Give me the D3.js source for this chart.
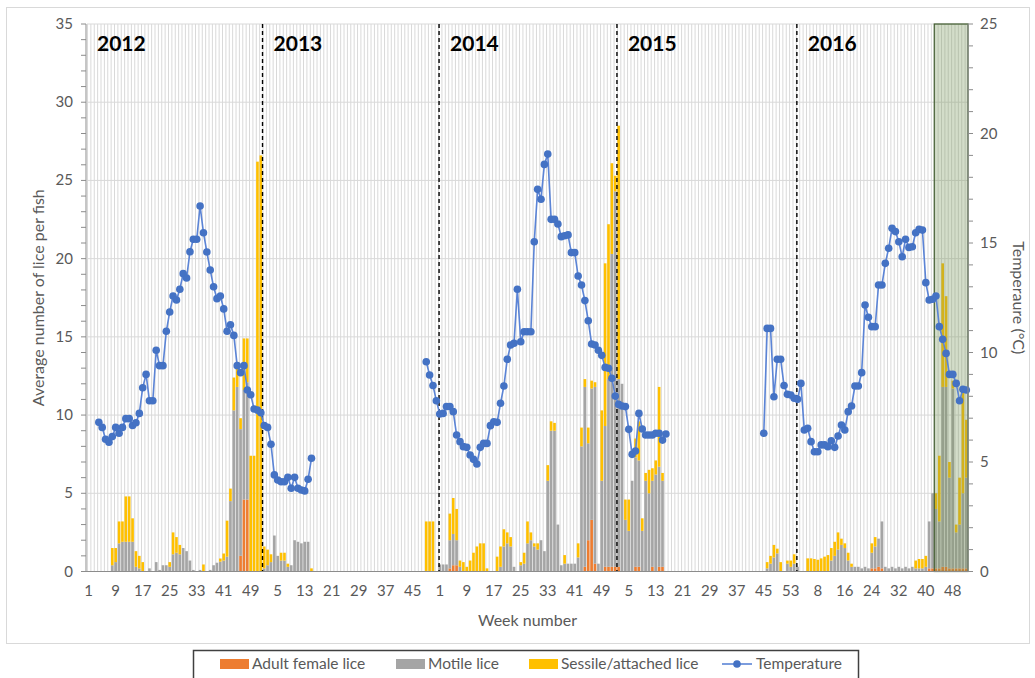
<!DOCTYPE html>
<html><head><meta charset="utf-8">
<script src="https://cdn.jsdelivr.net/npm/d3@7"></script>
<style>body{margin:0;background:#fff;} svg{display:block;font-family:Lato,'Open Sans',sans-serif;}</style>
</head><body><svg id="c" width="1035" height="678"></svg>
<script>
// ---------------- DATA ----------------
const years = [2012, 2013, 2014, 2015, 2016];
const weeksInYear = [52, 52, 52, 53, 52];
const dividerYears = [2013, 2014, 2015, 2016];
const yearLabels = ["2012", "2013", "2014", "2015", "2016"];
const seriesNames = ["Adult female lice", "Motile lice", "Sessile/attached lice", "Temperature"];
const leftTicks = [0, 5, 10, 15, 20, 25, 30, 35];
const rightTicks = [0, 5, 10, 15, 20, 25];
const shadeStart = "2016-43";

// Lice segment A: from 2012 week 8
const liceAStart = "2012-8";
const liceAFemale = [0,0,0,0,0,0,0,0,0,0, 0,0,0,0,0,0,0,0,0,0, 0,0,0,0,0,0,0,0,0,0, 0,0,0,0,0,0,0,0,1.0,4.6, 4.6,0,0,0,0,0,0,0,0,0, 0,0,0,0,0,0,0,0,0,0];
const liceAMotile = [0.4,0.6,1.8,1.9,1.9,1.9,1.9,0.3,0.2,0, 0,0.2,0,0.6,0.1,0.4,0.4,0.3,1.1,1.2, 1.1,1.5,1.3,0.7,0.1,0,0.1,0,0,0.1, 0.4,0.56,0.63,0.7,0.95,4.5,10.3,11.8,8.1,7.0, 7.5,0,0,0,0,0.2,0.4,0.6,2.3,1.0, 0.7,0.7,0.3,0.4,2.0,1.9,1.8,1.9,1.9,0];
const liceASessile = [1.1,0.9,1.4,1.3,2.9,2.9,1.5,1.0,0.8,0.6, 0,0,0,0,0,0,0,0.3,1.4,1.0, 0.6,0,0,0,0,0,0,0.45,0,0, 0,0,0.2,0.45,2.3,0.8,2.1,1.6,0.7,3.3, 2.8,7.4,7.4,26.2,26.6,1.4,1.0,0.5,0,0, 0.5,0.5,0.2,0,0,0,0,0,0,0.2];

// Lice segment B: from 2013 week 49
const liceBStart = "2013-49";
const liceBFemale = [0,0,0,0,0,0,0,0.2,0.4,0.4, 0,0,0,0,0,0,0,0,0,0, 0,0,0,0,0,0,0,0,0,0, 0,0,0,0,0,0,0,0,0,0, 0,0,0,0,0,0,0,0.3,2.0,3.3, 0.5,0,0,0.3,0.3,0.3,0.3,0.3,0,0, 0,0,0.3,0.3,0,0,0,0.3,0,0.3, 0.3,0];
const liceBMotile = [0,0,0,0,0.45,0.45,0.45,1.8,2.0,1.6, 0.3,0,0,0,0,0,0,0,0,0, 0,0,0.3,1.6,1.8,1.6,0.3,0,0.4,0.5, 1.8,2.0,1.6,1.4,2.0,1.3,5.8,9.0,9.0,3.0, 0.4,0.5,0.5,0.5,0.5,0.9,8.0,11.5,6.2,8.4, 11.3,0.5,5.8,9.0,12,20,24,12,12,3.3, 2.6,5.8,7.0,6.8,2.6,5.8,5.0,5.5,6.2,6.4, 5.5,0];
const liceBSessile = [3.2,3.2,3.2,0,0,0,0,1.7,2.3,2.0, 0.4,0.6,0.3,0.7,1.2,1.6,1.8,1.8,0.2,0, 0,0.95,1.3,1.1,0.7,0.6,0,0,0.2,0.7, 1.4,0.5,0.2,0.4,0,0,1.0,0.6,0.5,0, 0,0.55,0,0,0,0.9,1.2,0.5,1.0,0.5, 0.3,0,4.5,10.4,9.9,5.8,1.0,16.2,0,1.3, 2.0,0,1.2,2.5,0.8,0.5,1.5,0.8,0.9,5.1, 0.5,0];

// Lice segment C: from 2015 week 45
const liceCStart = "2015-45";
const liceCFemale = [0,0,0,0,0,0,0,0,0,0, 0,0,0,0,0,0,0,0,0,0, 0,0,0,0,0,0,0,0,0,0, 0,0,0.2,0.2,0.3,0.2,0,0,0,0, 0,0,0,0,0,0,0,0,0,0.2, 0.2,0.2,0.2,0.3,0.3,0.2,0.2,0.2,0.2,0.2, 0.2];
const liceCMotile = [0,0.2,0.5,0.9,1.16,0,0,0.5,0.3,0.5, 0.3,0,0,0,0,0,0,0,0,0, 0.7,1.0,1.4,1.7,1.5,0.7,0.3,0.3,0.3,0.2, 0.3,0.2,1.0,1.4,1.8,3.0,0.3,0.2,0.3,0.2, 0.3,0.2,0.3,0.2,0.3,0.2,0.2,0.2,0.3,3.0, 4.8,3.8,3.0,11.5,11.5,5.8,11.5,2.3,2.8,4.8, 5.8];
const liceCSessile = [0,0.4,0.5,0.8,0.3,0.6,0,0.2,0.4,0.6, 0,0,0,0.84,0.84,0.8,0.75,0.84,0.95,1.05, 0.8,0.9,1.1,0.4,0.3,0.5,0.2,0,0,0, 0,0,0.6,0.6,0,0,0,0,0,0, 0,0,0,0,0,0.5,0.6,0.6,0.7,0, 0,1.0,4.2,7.9,5.8,1.0,0.5,0.5,3.0,6.8, 3.7];

// Temperature (°C)
const tempAStart = "2012-4";
const tempA = [6.81,6.58,6.04,5.90,6.16,6.58,6.31,6.58,6.98,6.98, 6.67,6.79,7.22,8.39,9.0,7.8,7.8,10.1,9.4,9.4, 10.97,11.85,12.58,12.4,12.89,13.6,13.4,14.6,15.17,15.17, 16.69,15.47,14.59,13.77,13.0,12.46,12.58,11.99,10.97,11.27, 10.78,9.4,9.08,9.4,8.29,8.07,7.42,7.37,7.25,6.67, 6.58,5.81,4.41,4.18,4.1,4.1,4.3,3.8,4.3,3.8, 3.72,3.68,4.21,5.17];
const tempBStart = "2013-49";
const tempB = [9.58,8.97,8.49,7.80,7.19,7.22,7.53,7.53,7.30,6.23, 5.93,5.70,5.67,5.32,5.12,4.91,5.67,5.85,5.85,6.66, 6.84,6.81,7.68,8.47,9.69,10.34,10.42,12.89,10.49,10.95, 10.95,10.95,15.06,17.45,17.0,18.59,19.06,16.08,16.08,15.87, 15.29,15.33,15.37,14.56,14.56,13.49,13.08,12.37,11.45,10.39, 10.34,10.1,9.87,9.32,9.28,8.82,8.01,7.63,7.56,7.53, 6.49,5.35,5.50,7.22,6.51,6.23,6.23,6.23,6.31,6.31, 6.00,6.28];
const tempCStart = "2015-45";
const tempC = [6.31,11.10,11.10,7.98,9.69,9.69,8.49,8.09,8.06,7.91, 7.86,8.59,6.46,6.54,5.93,5.47,5.47,5.78,5.78,5.70, 5.97,5.67,6.19,6.69,6.46,7.30,7.56,8.47,8.47,9.08, 12.17,11.61,11.18,11.18,13.08,13.08,14.07,14.76,15.67,15.52, 15.06,14.37,15.17,14.80,14.83,15.47,15.62,15.59,13.19,12.40, 12.43,12.58,11.18,10.60,9.96,9.0,9.0,8.59,7.80,8.32, 8.29];

// ---------------- BUILD ----------------
const keys = [];
const weekOf = {};
years.forEach((y, yi) => { for (let w = 1; w <= weeksInYear[yi]; w++) { const k = y + "-" + w; keys.push(k); weekOf[k] = w; } });

const plot = { left: 87, right: 968, top: 24, bottom: 571.5 };
const C = { female: "#ED7D31", motile: "#A5A5A5", sessile: "#FFC000", temp: "#4472C4", line: "#5B84D6", grid: "#D9D9D9", axis: "#8C8C8C", text: "#595959" };

const x = d3.scaleBand().domain(keys).range([plot.left, plot.right]).paddingInner(0.22).paddingOuter(0.11);
const step = x.step();
const yL = d3.scaleLinear().domain([0, 35]).range([plot.bottom, plot.top]);
const yR = d3.scaleLinear().domain([0, 25]).range([plot.bottom, plot.top]);

const svg = d3.select("#c");
svg.append("rect").attr("x", 6.5).attr("y", 7.5).attr("width", 1023).attr("height", 636).attr("fill", "#fff").attr("stroke", "#D9D9D9");

// vertical category gridlines
const g = svg.append("g");
g.selectAll("line.vg").data(keys).join("line")
  .attr("x1", (k, i) => plot.left + i * step + 0.5).attr("x2", (k, i) => plot.left + i * step + 0.5)
  .attr("y1", plot.top).attr("y2", plot.bottom).attr("stroke", C.grid).attr("stroke-width", 1);
// horizontal gridlines
g.selectAll("line.hg").data(leftTicks.slice(1)).join("line")
  .attr("x1", plot.left).attr("x2", plot.right).attr("y1", d => yL(d)).attr("y2", d => yL(d))
  .attr("stroke", C.grid).attr("stroke-width", 1);

// stacked bars
function rows(startKey, f, m, s) { const i0 = keys.indexOf(startKey); return f.map((v, j) => ({ key: keys[i0 + j], female: v, motile: m[j], sessile: s[j] })); }
const liceRows = [].concat(rows(liceAStart, liceAFemale, liceAMotile, liceASessile), rows(liceBStart, liceBFemale, liceBMotile, liceBSessile), rows(liceCStart, liceCFemale, liceCMotile, liceCSessile));
const stack = d3.stack().keys(["female", "motile", "sessile"])(liceRows);
const colorOf = { female: C.female, motile: C.motile, sessile: C.sessile };
svg.append("g").selectAll("g").data(stack).join("g").attr("fill", d => colorOf[d.key])
  .selectAll("rect").data(d => d.filter(p => p[1] > p[0])).join("rect")
  .attr("x", d => x(d.data.key)).attr("width", x.bandwidth())
  .attr("y", d => yL(d[1])).attr("height", d => yL(d[0]) - yL(d[1]));

// shaded period
const shadeX = plot.left + keys.indexOf(shadeStart) * step;
svg.append("rect").attr("x", shadeX).attr("y", plot.top).attr("width", plot.right - shadeX).attr("height", plot.bottom - plot.top)
  .attr("fill", "rgba(118,150,88,0.32)").attr("stroke", "#3F5A2E").attr("stroke-width", 1.2);

// dividers
const dividerNudge = [0, 0.3, 1.0, 1.3];
dividerYears.forEach((y, i) => {
  const dx = plot.left + (keys.indexOf(y + "-1") + dividerNudge[i]) * step;
  svg.append("line").attr("x1", dx).attr("x2", dx).attr("y1", plot.top).attr("y2", plot.bottom)
    .attr("stroke", "#000").attr("stroke-width", 1.4).attr("stroke-dasharray", "4,3");
});
// year labels
yearLabels.forEach((t, i) => {
  const lx = i === 0 ? plot.left + 10 : plot.left + (keys.indexOf(years[i] + "-1") + dividerNudge[i - 1]) * step + 11;
  svg.append("text").attr("x", lx).attr("y", 51).attr("font-size", 21).attr("font-weight", 700).attr("fill", "#000").text(t);
});

// temperature
const line = d3.line().x(d => x(d.key) + x.bandwidth() / 2).y(d => yR(d.t));
function tRows(startKey, arr) { const i0 = keys.indexOf(startKey); return arr.map((t, j) => ({ key: keys[i0 + j], t })); }
const tg = svg.append("g");
[tRows(tempAStart, tempA), tRows(tempBStart, tempB), tRows(tempCStart, tempC)].forEach(seg => {
  tg.append("path").attr("d", line(seg)).attr("fill", "none").attr("stroke", C.line).attr("stroke-width", 1.6);
  tg.selectAll(null).data(seg).join("circle").attr("cx", d => x(d.key) + x.bandwidth() / 2).attr("cy", d => yR(d.t)).attr("r", 3.8).attr("fill", C.temp);
});

// axes
const ax = svg.append("g").attr("stroke", C.axis).attr("stroke-width", 1);
ax.append("line").attr("x1", plot.left - 1).attr("x2", plot.left - 1).attr("y1", plot.top).attr("y2", plot.bottom);
ax.append("line").attr("x1", plot.right).attr("x2", plot.right).attr("y1", plot.top).attr("y2", plot.bottom);
ax.append("line").attr("x1", plot.left - 1).attr("x2", plot.right).attr("y1", plot.bottom).attr("y2", plot.bottom);
ax.selectAll("line.lt").data(d3.range(0, 36)).join("line").attr("x1", plot.left - 6).attr("x2", plot.left - 1).attr("y1", d => yL(d)).attr("y2", d => yL(d));
ax.selectAll("line.rt").data(d3.range(0, 26)).join("line").attr("x1", plot.right).attr("x2", plot.right + 5).attr("y1", d => yR(d)).attr("y2", d => yR(d));

const tx = svg.append("g").attr("fill", C.text).attr("font-size", 15);
tx.selectAll("text.l").data(leftTicks).join("text").attr("x", plot.left - 14).attr("y", d => yL(d) + 5).attr("text-anchor", "end").text(d => d);
tx.selectAll("text.r").data(rightTicks).join("text").attr("x", plot.right + 12).attr("y", d => yR(d) + 5).attr("text-anchor", "start").text(d => d);
tx.selectAll("text.x").data(keys.filter((k, i) => i % 8 === 0)).join("text").attr("x", d => x(d) + x.bandwidth() / 2).attr("y", 596).attr("text-anchor", "middle").text(d => weekOf[d]);

svg.append("text").attr("transform", `translate(44,${(plot.top + plot.bottom) / 2}) rotate(-90)`).attr("text-anchor", "middle").attr("font-size", 16).attr("fill", C.text).text("Average number of lice per fish");
svg.append("text").attr("transform", `translate(1013,${(plot.top + plot.bottom) / 2}) rotate(90)`).attr("text-anchor", "middle").attr("font-size", 16).attr("fill", C.text).text("Temperaure (°C)");
svg.append("text").attr("x", (plot.left + plot.right) / 2).attr("y", 626).attr("text-anchor", "middle").attr("font-size", 16).attr("fill", C.text).text("Week number");

// legend
const lg = svg.append("g");
lg.append("rect").attr("x", 193.5).attr("y", 650.5).attr("width", 665).attr("height", 32).attr("fill", "#fff").attr("stroke", "#404040").attr("stroke-width", 1.5);
const legX = [220, 396, 529, 722];
const legCol = [C.female, C.motile, C.sessile, C.temp];
seriesNames.forEach((n, i) => {
  if (i < 3) lg.append("rect").attr("x", legX[i]).attr("y", 659).attr("width", 29).attr("height", 10).attr("fill", legCol[i]);
  else {
    lg.append("line").attr("x1", legX[i]).attr("x2", legX[i] + 30).attr("y1", 664).attr("y2", 664).attr("stroke", C.line).attr("stroke-width", 1.6);
    lg.append("circle").attr("cx", legX[i] + 15).attr("cy", 664).attr("r", 3.8).attr("fill", C.temp);
  }
  lg.append("text").attr("x", legX[i] + (i < 3 ? 32 : 34)).attr("y", 669).attr("font-size", 15.5).attr("fill", C.text).text(n);
});
</script></body></html>
